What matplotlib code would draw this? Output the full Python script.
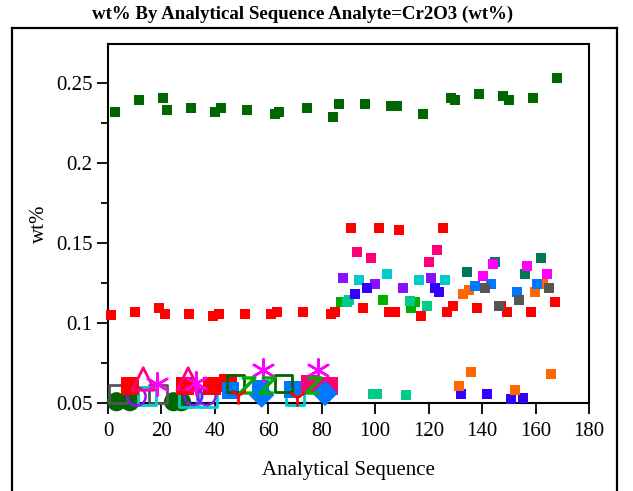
import matplotlib
matplotlib.use("Agg")
import matplotlib.pyplot as plt
from matplotlib.lines import Line2D

plt.rcParams['font.family'] = ['Liberation Serif', 'DejaVu Serif']

title = "wt% By Analytical Sequence Analyte=Cr2O3 (wt%)"
x_label = "Analytical Sequence"
y_label = "wt%"
x_ticks = [0, 20, 40, 60, 80, 100, 120, 140, 160, 180]
y_ticks = [0.05, 0.1, 0.15, 0.2, 0.25]
y_tick_labels = ["0.05", "0.1", "0.15", "0.2", "0.25"]

# ---- small filled squares (main series) ----
dkgreen_x = [2.5, 11.6, 20.5, 22.0, 31.0, 39.9, 42.2, 51.9, 62.4, 63.9, 74.4, 84.1, 86.3,
             96.1, 105.8, 108.0, 117.8, 128.3, 129.8, 138.7, 147.7, 150.0, 159.0, 167.9]
dkgreen_y = [0.232, 0.2396, 0.2408, 0.2333, 0.2346, 0.232, 0.2346, 0.2333, 0.2308, 0.232,
             0.2346, 0.229, 0.2371, 0.2371, 0.2358, 0.2358, 0.2308, 0.2408, 0.2396, 0.2433,
             0.2421, 0.2396, 0.2408, 0.2533]

red_x = [1.1, 10.1, 19.1, 21.3, 30.3, 39.3, 41.5, 51.3, 61.0, 63.2, 73.0, 83.5, 85.0,
         90.8, 101.3, 108.8, 125.3, 95.3, 105.1, 107.3, 117.0, 126.8, 129.0, 138.0,
         147.0, 149.2, 158.2, 167.2]
red_y = [0.105, 0.1071, 0.1096, 0.1058, 0.1058, 0.1046, 0.1058, 0.1058, 0.1058, 0.1071,
         0.1071, 0.1058, 0.1071, 0.1596, 0.1596, 0.1583, 0.1596, 0.1096, 0.1071, 0.1071,
         0.1046, 0.1071, 0.1108, 0.1096, 0.1108, 0.1071, 0.1071, 0.1133]

deeppink_x = [93.1, 98.3, 123.0, 120.0]
deeppink_y = [0.1446, 0.1408, 0.1458, 0.1383]

purple_x = [87.8, 99.8, 110.3, 120.8]
purple_y = [0.1283, 0.1246, 0.1221, 0.1283]

cyan_x = [93.8, 104.3, 116.3, 126.0]
cyan_y = [0.1271, 0.1308, 0.1271, 0.1271]

blue_x = [92.3, 96.8, 122.3, 123.8, 132.0, 141.7, 150.7, 155.2]
blue_y = [0.1183, 0.1221, 0.1221, 0.1196, 0.0558, 0.0558, 0.0525, 0.0533]

green_x = [87.1, 102.8, 114.8, 113.3]
green_y = [0.1133, 0.1146, 0.1133, 0.1096]

teal_x = [90.1, 89.3, 113.0, 119.3, 99.1, 100.6, 111.5]
teal_y = [0.1146, 0.1133, 0.114, 0.1108, 0.0558, 0.0558, 0.055]

dkteal_x = [134.2, 144.7, 155.9, 161.9]
dkteal_y = [0.1321, 0.1383, 0.1308, 0.1408]

magenta_x = [144.0, 140.2, 156.7, 164.2]
magenta_y = [0.1371, 0.1296, 0.1358, 0.1308]

orange_x = [132.7, 135.0, 162.6, 159.7, 135.7, 131.2, 152.2, 165.7]
orange_y = [0.1183, 0.1208, 0.1246, 0.1196, 0.0696, 0.0608, 0.0583, 0.0683]

dodger_x = [137.2, 143.2, 152.9, 160.4]
dodger_y = [0.1233, 0.1246, 0.1196, 0.1246]

gray_x = [141.0, 146.2, 153.7, 164.9]
gray_y = [0.1221, 0.1108, 0.1146, 0.1221]

# ---- low cluster (various markers) ----
bigred_x = [8.2, 28.8, 39.0, 45.0]
bigred_y = [0.0606, 0.0606, 0.0606, 0.0623]

bigpink_x = [75.6, 82.5]
bigpink_y = [0.0617, 0.0608]

grayopen_x = [3.6, 18.6]
grayopen_y = [0.0554, 0.0554]

cyanopen_x = [14.5, 30.0, 37.5, 70.0]
cyanopen_y = [0.0544, 0.0533, 0.0533, 0.0545]

purplecirc_x = [10.7, 31.9, 36.9]
purplecirc_y = [0.054, 0.0544, 0.0544]

pinktri_x = [13.2, 30.0]
pinktri_y = [0.065, 0.065]

aster_x = [18.5, 32.8, 58.1, 78.7]
aster_y = [0.0617, 0.0623, 0.0706, 0.0706]

dgopen_x = [47.8, 65.6]
dgopen_y = [0.0619, 0.0619]

zmark_x = [51.9, 59.6, 76.8]
zmark_y = [0.0613, 0.0613, 0.0613]

bluesq_x = [46.0, 57.1, 69.1]
bluesq_y = [0.058, 0.0592, 0.0586]

bluedia_x = [57.5, 81.2]
bluedia_y = [0.055, 0.056]

redy_x = [48.8, 70.6]
redy_y = [0.055, 0.054]

dgcirc_x = [3.2, 8.2, 24.5, 27.5]
dgcirc_y = [0.0508, 0.0508, 0.0508, 0.0508]

W, H = 633, 491
fig = plt.figure(figsize=(W / 100, H / 100), dpi=100)
ax = fig.add_axes([108 / W, 1 - 403 / H, (589 - 108) / W, (403 - 44) / H])

S = 52
def sq(x, y, c, s=S, z=3):
    ax.scatter(x, y, s=s, marker='s', color=c, edgecolors='none', zorder=z, clip_on=False)

sq(dkgreen_x, dkgreen_y, '#006600')
sq(red_x, red_y, '#ff0000')
sq(deeppink_x, deeppink_y, '#ff0077')
sq(purple_x, purple_y, '#8811ff')
sq(cyan_x, cyan_y, '#00cccc')
sq(green_x, green_y, '#00b000')
sq(teal_x, teal_y, '#00cc88')
sq(blue_x, blue_y, '#3300ff')
sq(dkteal_x, dkteal_y, '#007755')
sq(magenta_x, magenta_y, '#ff00ff')
sq(orange_x, orange_y, '#ff6600')
sq(dodger_x, dodger_y, '#0077ff')
sq(gray_x, gray_y, '#555555')

# low cluster
ax.scatter(dgcirc_x, dgcirc_y, s=190, marker='o', color='#006600', edgecolors='none', zorder=2, clip_on=False)
ax.scatter(grayopen_x, grayopen_y, s=170, marker='s', facecolors='none', edgecolors='#555555', linewidths=2, zorder=3, clip_on=False)
ax.scatter(cyanopen_x, cyanopen_y, s=170, marker='s', facecolors='none', edgecolors='#00cccc', linewidths=2, zorder=3, clip_on=False)
ax.scatter(purplecirc_x, purplecirc_y, s=170, marker='o', facecolors='none', edgecolors='#8811ff', linewidths=1.8, zorder=3, clip_on=False)
ax.scatter(bigred_x, bigred_y, s=170, marker='s', color='#ff0000', edgecolors='none', zorder=4, clip_on=False)
ax.scatter(bigpink_x, bigpink_y, s=170, marker='s', color='#ff0077', edgecolors='none', zorder=4, clip_on=False)
ax.scatter(bluesq_x, bluesq_y, s=150, marker='s', color='#0077ff', edgecolors='none', zorder=4, clip_on=False)
ax.scatter(bluedia_x, bluedia_y, s=170, marker='D', color='#0077ff', edgecolors='none', zorder=4, clip_on=False)
ax.scatter(pinktri_x, pinktri_y, s=260, marker='^', facecolors='none', edgecolors='#ff0077', linewidths=2, zorder=5, clip_on=False)
ax.scatter(aster_x, aster_y, s=260, marker=(6, 2, 0), color='#ff00ff', linewidths=1.8, zorder=5, clip_on=False)
ax.scatter(dgopen_x, dgopen_y, s=150, marker='s', facecolors='none', edgecolors='#006600', linewidths=2, zorder=5, clip_on=False)
ax.scatter(zmark_x, zmark_y, s=150, marker='$Z$', color='#00b000', zorder=5, clip_on=False)
ax.scatter(redy_x, redy_y, s=170, marker='1', color='#ff0000', linewidths=2, zorder=5, clip_on=False)

ax.set_xlim(0, 180)
ax.set_ylim(0.05, 0.2744)
ax.set_xticks(x_ticks)
ax.set_yticks(y_ticks)
ax.set_yticklabels(y_tick_labels)
ax.set_yticks([0.075, 0.125, 0.175, 0.225], minor=True)
ax.tick_params(axis='both', which='major', direction='out', length=8, width=1.3, labelsize=15, colors='black')
ax.tick_params(axis='x', which='major', pad=6)
ax.tick_params(axis='y', which='major', pad=3)
ax.tick_params(axis='y', which='minor', direction='out', length=5, width=1.3)
for sp in ax.spines.values():
    sp.set_linewidth(1.5)
    sp.set_zorder(1)
ax.set_xlabel(x_label, fontsize=15, labelpad=14)
ax.set_ylabel(y_label, fontsize=15, labelpad=5)

# outer frame
lw = 1.6
fig.add_artist(Line2D([12 / W, 617 / W], [1 - 28 / H, 1 - 28 / H], color='black', lw=lw, transform=fig.transFigure))
fig.add_artist(Line2D([12 / W, 12 / W], [1 - 28 / H, 0], color='black', lw=lw, transform=fig.transFigure))
fig.add_artist(Line2D([617 / W, 617 / W], [1 - 28 / H, 0], color='black', lw=lw, transform=fig.transFigure))

fig.text(303 / W, 1 - 14 / H, title, ha='center', va='center', fontsize=13.6, fontweight='bold')

fig.savefig("out.png", dpi=100)
